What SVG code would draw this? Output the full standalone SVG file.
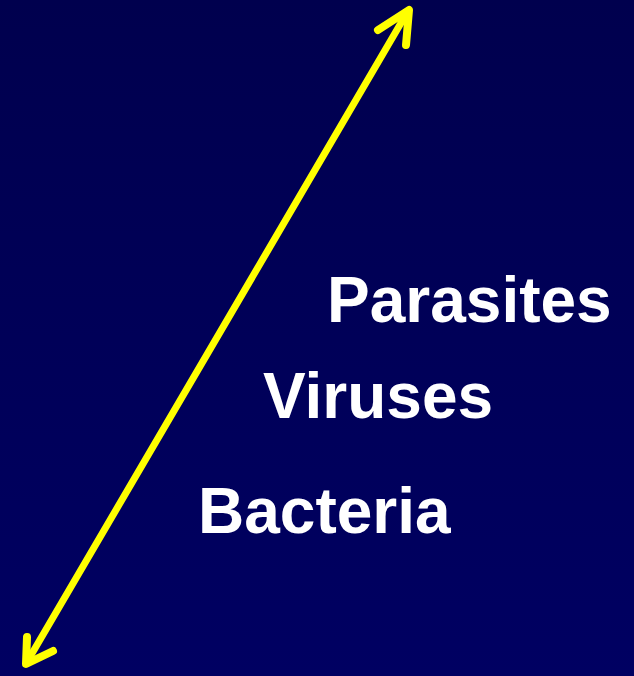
<svg xmlns="http://www.w3.org/2000/svg" width="634" height="676" viewBox="0 0 634 676">
  <defs>
    <linearGradient id="bg" x1="0" y1="0" x2="0" y2="1">
      <stop offset="0" stop-color="#00004e"/>
      <stop offset="1" stop-color="#000062"/>
    </linearGradient>
  </defs>
  <style>
    .lbl { font-family: "Liberation Sans", Arial, sans-serif; font-weight: bold; font-size: 64px; fill: #ffffff; }
    .arr { stroke: #ffff00; stroke-width: 7; fill: none; stroke-linecap: round; stroke-linejoin: round; }
    .head { stroke-width: 8; }
  </style>
  <rect x="0" y="0" width="634" height="676" fill="url(#bg)"/>
  <g id="connectors">
    <line class="arr" x1="27" y1="662" x2="408" y2="11"/>
    <polyline class="arr head" points="378,30 409,10 406,45"/>
    <polyline class="arr head" points="27,637 26,664 53,651"/>
  </g>
  <g id="parasites"><text class="lbl" x="327" y="322">Parasites</text></g>
  <g id="viruses"><text class="lbl" x="263" y="418">Viruses</text></g>
  <g id="bacteria"><text class="lbl" x="198" y="533">Bacteria</text></g>
</svg>
